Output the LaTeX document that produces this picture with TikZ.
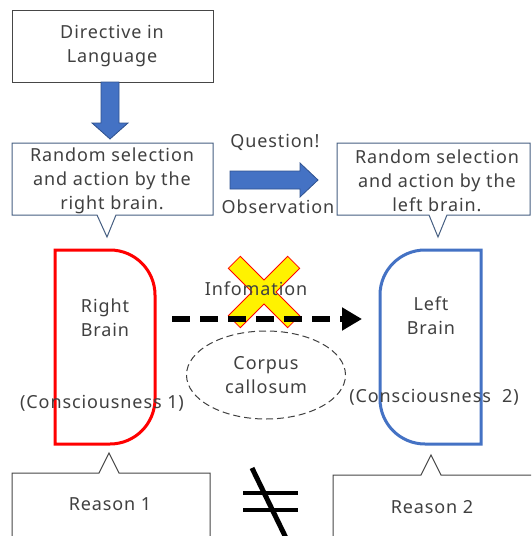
\documentclass[tikz,border=0pt]{standalone}
\usepackage{fontspec}
\setmainfont{Noto Sans}[LetterSpace=5]
\usetikzlibrary{arrows.meta,shapes.geometric}
\definecolor{txt}{RGB}{64,64,64}
\definecolor{bblue}{RGB}{68,114,196}
\definecolor{bbord}{RGB}{47,82,143}
\definecolor{callb}{RGB}{70,95,130}
\definecolor{boxg}{RGB}{70,70,70}
\tikzset{
  lbl/.style={text=txt,font=\fontsize{18}{24}\selectfont,align=center,inner sep=0pt},
  blockarrow/.style={fill=bblue,draw=bbord,line width=0.8pt},
  callout/.style={draw=callb,line width=1pt,fill=white},
  grayout/.style={draw=boxg,line width=1pt,fill=white},
}
\begin{document}
\begin{tikzpicture}[x=1pt,y=-1pt]
\useasboundingbox (0,0) rectangle (531,536);
\clip (0,0) rectangle (531,536);
% Directive box
\draw[boxg,line width=1pt] (12,10) rectangle (213,82);
\node[lbl] (dir) at (112,46) {Directive in\\Language};
% down block arrow
\draw[blockarrow] (101,82) -- (119,82) -- (119,123) -- (128,123) -- (110,139) -- (92,123) -- (101,123) -- cycle;
% top callouts
\draw[callout] (12,143) -- (213,143) -- (213,215) -- (116,215) -- (107,237) -- (97,215) -- (12,215) -- cycle;
\node[lbl] (rsel) at (112,181) {Random selection\\and action by the\\right brain.};
\draw[callout] (337,143) -- (530,143) -- (530,215) -- (447,215) -- (438,237) -- (429,215) -- (337,215) -- cycle;
\node[lbl] (lsel) at (437,181) {Random selection\\and action by the\\left brain.};
% right block arrow
\draw[blockarrow] (230,171) -- (300,171) -- (300,163) -- (318,180) -- (300,197) -- (300,189) -- (230,189) -- cycle;
\node[lbl] (q) at (275,142) {Question!};
\node[lbl] (obs) at (278,207) {Observation};
% brains
\draw[red,line width=3pt] (55,250) -- (110,250) arc[start angle=-90,end angle=0,radius=45] -- (155,399) arc[start angle=0,end angle=90,radius=45] -- (55,444) -- cycle;
\draw[bblue,line width=3pt] (481,250) -- (425,250) arc[start angle=-90,end angle=-180,radius=45] -- (380,399) arc[start angle=180,end angle=90,radius=45] -- (481,444) -- cycle;
\node[lbl] (rb) at (105,318) {Right\\Brain};
\node[lbl] (lb) at (431,316) {Left\\Brain};
\node[lbl] (c1) at (102,403) {(Consciousness 1)};
\node[lbl] (c2) at (434,397) {(Consciousness\ \ 2)};
% corpus callosum
\node[draw=txt,dash pattern=on 7pt off 4pt,line width=1pt,ellipse,minimum width=159pt,minimum height=88pt,inner sep=0pt] (cc) at (266,375) {};
\node[lbl] (cct) at (266,375) {Corpus\\callosum};
% yellow X
\begin{scope}[shift={(264,292)},rotate=45]
\draw[red,fill=yellow,line width=0.8pt] (8.5,8.5) -- (42,8.5) -- (42,-8.5) -- (8.5,-8.5) -- (8.5,-42) -- (-8.5,-42) -- (-8.5,-8.5) -- (-42,-8.5) -- (-42,8.5) -- (-8.5,8.5) -- (-8.5,42) -- (8.5,42) -- cycle;
\end{scope}
\node[lbl] (info) at (256,289) {Infomation};
% dashed arrow
\coordinate (ds) at (172,319);
\coordinate (de) at (362,319);
\draw[line width=5.5pt,dash pattern=on 18pt off 10pt,-{Triangle[length=20pt,width=22pt]}] (ds) -- (de);
% bottom callouts
\draw[grayout] (12,540) -- (12,473) -- (99,473) -- (109,453) -- (119,473) -- (210,473) -- (210,540);
\node[lbl] (r1) at (110,504) {Reason 1};
\draw[grayout] (333,540) -- (333,475) -- (421,475) -- (431,455) -- (441,475) -- (540,475);
\node[lbl] (r2) at (432,507) {Reason 2};
% not equal
\draw[line width=4.5pt] (243,493) -- (298,493);
\draw[line width=4.5pt] (243,510) -- (298,510);
\draw[line width=5pt] (252,468) -- (287,540);
\end{tikzpicture}
\end{document}
